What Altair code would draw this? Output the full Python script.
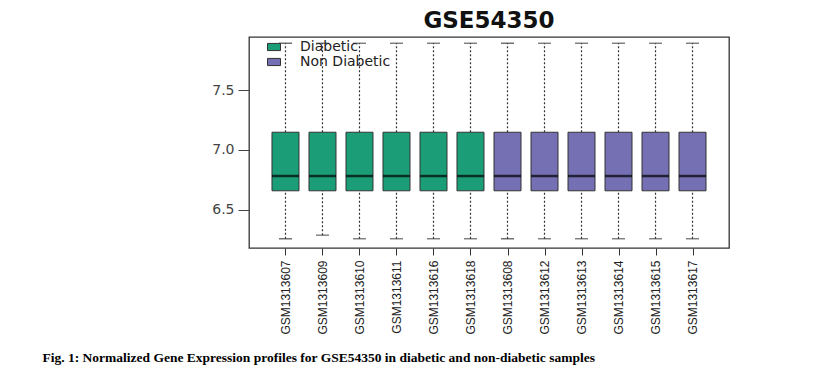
import altair as alt
import pandas as pd

samples = ["GSM1313607", "GSM1313609", "GSM1313610", "GSM1313611", "GSM1313616", "GSM1313618",
           "GSM1313608", "GSM1313612", "GSM1313613", "GSM1313614", "GSM1313615", "GSM1313617"]
groups = ["Diabetic"] * 6 + ["Non Diabetic"] * 6
lower = [6.26, 6.29, 6.26, 6.26, 6.26, 6.26, 6.26, 6.26, 6.26, 6.26, 6.26, 6.26]
q1 = [6.66] * 12
median = [6.783] * 12
q3 = [7.148] * 12
upper = [7.89] * 12

df = pd.DataFrame({"sample": samples, "group": groups, "lower": lower, "q1": q1,
                   "median": median, "q3": q3, "upper": upper})

caption = "Fig. 1: Normalized Gene Expression profiles for GSE54350 in diabetic and non-diabetic samples"

x = alt.X("sample:N", sort=samples,
          scale=alt.Scale(type="point", padding=0.986),
          axis=alt.Axis(title=caption, labelAngle=270, labelFont="Liberation Sans", labelFontSize=12,
                        labelColor="#222", labelPadding=5, tickSize=7, tickColor="#333", domain=False,
                        titleFont="Liberation Serif", titleFontSize=13.5, titleFontWeight="bold",
                        titleColor="#000", titleAnchor="start", titleAlign="left", titleX=-207,
                        titleY=109, titleBaseline="middle"))
yscale = alt.Scale(domain=[6.183, 7.942], nice=False, zero=False)
yaxis = alt.Axis(title=None, values=[6.5, 7.0, 7.5], format=".1f", grid=False, domain=False,
                 tickSize=11, tickColor="#444", labelFont="DejaVu Sans", labelFontSize=14,
                 labelColor="#444", labelPadding=4)

base = alt.Chart(df)

wlow = base.mark_rule(color="#333", strokeDash=[2, 2], strokeWidth=1.2).encode(
    x=x, y=alt.Y("lower:Q", scale=yscale, axis=yaxis), y2="q1:Q")
whigh = base.mark_rule(color="#333", strokeDash=[2, 2], strokeWidth=1.2).encode(
    x=x, y=alt.Y("q3:Q", scale=yscale), y2="upper:Q")
caplow = base.mark_tick(color="#333", size=13, thickness=1.3, orient="horizontal").encode(
    x=x, y=alt.Y("lower:Q", scale=yscale))
caphigh = base.mark_tick(color="#333", size=13, thickness=1.3, orient="horizontal").encode(
    x=x, y=alt.Y("upper:Q", scale=yscale))
box = base.mark_bar(size=27, stroke="#333", strokeWidth=1, opacity=1).encode(
    x=x, y=alt.Y("q1:Q", scale=yscale), y2="q3:Q",
    color=alt.Color("group:N", scale=alt.Scale(domain=["Diabetic", "Non Diabetic"],
                                                 range=["#1b9e77", "#7570b3"]),
                    legend=alt.Legend(title=None, orient="none", legendX=18, legendY=3,
                                      symbolType="M-1,-0.55L1,-0.55L1,0.55L-1,0.55Z",
                                      symbolSize=169, symbolStrokeColor="#333",
                                      symbolStrokeWidth=1, symbolOpacity=1,
                                      labelFont="DejaVu Sans", labelFontSize=14,
                                      labelColor="#222", labelOffset=19, rowPadding=1,
                                      padding=0)))
med = base.mark_tick(color="#000", size=27, thickness=2.5, orient="horizontal").encode(
    x=x, y=alt.Y("median:Q", scale=yscale))

chart = alt.layer(wlow, whigh, caplow, caphigh, box, med).properties(
    width=480, height=211,
    autosize=alt.AutoSizeParams(type="none"),
    padding={"left": 249, "top": 37, "right": 108, "bottom": 127},
    title=alt.TitleParams("GSE54350", font="DejaVu Sans", fontSize=23, fontWeight="bold",
                          color="#111", anchor="middle", offset=4),
    background="white",
).configure_view(stroke="#333", strokeWidth=1.3)

chart.save("out.html", embed_options={"renderer": "svg", "actions": False})
